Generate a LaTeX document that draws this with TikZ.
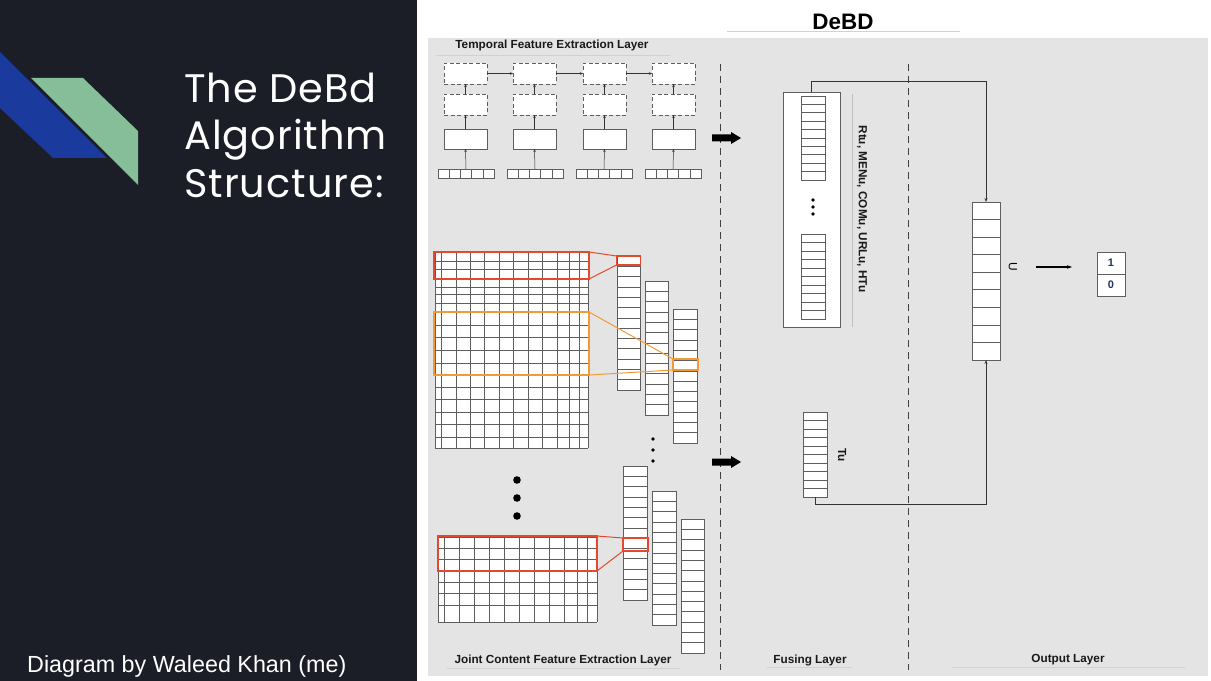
\documentclass[tikz,border=0pt]{standalone}
\usepackage{fontspec}
\setmainfont{Liberation Sans}
\newfontfamily\titlefont{Poppins}[LetterSpace=2.5]
\usetikzlibrary{arrows.meta,calc}
\definecolor{darkbg}{HTML}{1B1E26}
\definecolor{logoblue}{HTML}{1A3A9E}
\definecolor{logogreen}{HTML}{86BE9A}
\definecolor{panelgray}{HTML}{E4E4E4}
\definecolor{hlred}{HTML}{E5492D}
\definecolor{hlorange}{HTML}{F29B35}
\definecolor{navy}{HTML}{1F3461}
\definecolor{edgegray}{HTML}{5E5E5E}
\tikzset{
  vecbox/.style={draw=edgegray, fill=white, line width=0.7bp, inner sep=0pt, outer sep=0pt},
  cellline/.style={draw=edgegray, line width=0.6bp},
  gridline/.style={draw=edgegray, line width=0.6bp},
  dbox/.style={draw=edgegray, fill=white, dash pattern=on 4bp off 2.5bp, line width=0.7bp, minimum width=43bp, minimum height=21bp, inner sep=0pt, outer sep=0pt},
  sbox/.style={draw=edgegray, fill=white, line width=0.7bp, minimum width=43bp, minimum height=20bp, inner sep=0pt, outer sep=0pt},
  tarrow/.style={draw=black!80, line width=0.5bp, -{Stealth[length=3bp,width=2.5bp]}},
  conn/.style={draw=black!80, line width=0.9bp, -{Stealth[length=4bp,width=3bp]}},
  hlbox/.style={draw=#1, line width=1.2bp, inner sep=0pt, outer sep=0pt},
  sepline/.style={draw=black!75, line width=1bp, dash pattern=on 7bp off 5bp},
  lab/.style={font=\bfseries\fontsize{11.8}{14}\selectfont, text=black!90, inner sep=0pt},
  titletext/.style={font=\titlefont\fontsize{40}{48}\selectfont, text=white, inner sep=0pt, anchor=base west},
  uline/.style={draw=black!18, line width=0.6bp},
}
\newcommand{\vvec}[6]{%
  \node[vecbox, anchor=north west, minimum width={(#4-#2)*1bp}, minimum height={(#5-#3)*1bp}] (#1) at (#2,#3) {};
  \pgfmathtruncatemacro{\vvn}{#6-1}
  \foreach \k in {1,...,\vvn}{\draw[cellline] (#2,{#3+\k*(#5-#3)/#6}) -- (#4,{#3+\k*(#5-#3)/#6});}
}
\newcommand{\hvec}[6]{%
  \node[vecbox, anchor=north west, minimum width={(#4-#2)*1bp}, minimum height={(#5-#3)*1bp}] (#1) at (#2,#3) {};
  \pgfmathtruncatemacro{\vvn}{#6-1}
  \foreach \k in {1,...,\vvn}{\draw[cellline] ({#2+\k*(#4-#2)/#6},#3) -- ({#2+\k*(#4-#2)/#6},#5);}
}
\begin{document}
\begin{tikzpicture}[x=1bp, y=-1bp]
\useasboundingbox (0,0) rectangle (1211,681);
% backgrounds
\fill[white] (0,0) rectangle (1211,681);
\fill[darkbg] (0,0) rectangle (417,681);
\fill[panelgray] (428,38) rectangle (1208,676);
% logo
\fill[logoblue] (0,52) -- (107,158) -- (53,158) -- (0,108) -- cycle;
\fill[logogreen] (31,78) -- (83,78) -- (138,131) -- (138,185) -- cycle;
% left titles
\node[titletext] (t1) at (184,103) {The DeBd};
\node[titletext] (t2) at (184,150) {Algorithm};
\node[titletext] (t3) at (184,198) {Structure:};
\node[font=\fontsize{23.4}{28}\selectfont, text=white, inner sep=0pt, anchor=base west] (cap) at (27,672) {Diagram by Waleed Khan (me)};
% heading
\node[font=\bfseries\fontsize{22.5}{26}\selectfont, inner sep=0pt] (head) at (843,22) {DeBD};
\draw[uline] (727,31) -- (960,31);
% separators
\draw[sepline] (720,64) -- (720,670);
\draw[sepline] (908,64) -- (908,670);
% temporal layer
\node[lab] (ttl) at (552,45) {Temporal Feature Extraction Layer};
\draw[uline] (436,55) -- (670,55);
\foreach \i/\x/\v in {1/444/438,2/513/507,3/583/576,4/652/645}{
  \node[dbox, anchor=north west] (da\i) at (\x,63) {};
  \node[dbox, anchor=north west] (db\i) at (\x,94) {};
  \node[sbox, anchor=north west] (sb\i) at (\x,129) {};
  \hvec{in\i}{\v}{169}{\v+56}{178}{5}
  \draw[tarrow] (in\i.north) -- (sb\i.south);
  \draw[tarrow] (sb\i.north) -- (db\i.south);
  \draw[tarrow] (db\i.north) -- (da\i.south);
}
\foreach \i/\j in {1/2,2/3,3/4}{\draw[tarrow] (da\i.east) -- (da\j.west);}
% thick arrows
\fill[black] (712,134.5) -- (731,134.5) -- (731,132) -- (741,138) -- (731,144) -- (731,141.5) -- (712,141.5) -- cycle;
\fill[black] (712,458.5) -- (731,458.5) -- (731,456) -- (741,462) -- (731,468) -- (731,465.5) -- (712,465.5) -- cycle;
% top grid
\fill[white] (435,252) rectangle (588,448);
\foreach \x in {435,441,456,470,484,499,513,528,542,557,569,579,588}{\draw[gridline] (\x,252) -- (\x,448);}
\foreach \y in {252,261,269,278,287,294,303,312,325,337,350,363,375,387,399,412,424,437,448}{\draw[gridline] (435,\y) -- (588,\y);}
% bottom grid
\fill[white] (438,537) rectangle (597,622);
\foreach \x in {438,444,459,474,489,504,519,534,549,564,577,587,597}{\draw[gridline] (\x,537) -- (\x,622);}
\foreach \y in {537,548,559,571,582,593,605,622}{\draw[gridline] (438,\y) -- (597,\y);}
% feature columns
\vvec{ca}{617}{256}{640}{390}{13}
\vvec{cb}{645}{281}{668}{415}{13}
\vvec{cc}{673}{309}{697}{443}{13}
\vvec{cd}{623}{466}{647}{600}{13}
\vvec{ce}{652}{491}{676}{625}{13}
\vvec{cf}{681}{519}{704}{653}{13}
% dots
\foreach \y in {480,498,516}{\fill[black] (517,\y) circle (3.8);}
\foreach \y in {439,450,461}{\fill[black] (653,\y) circle (1.8);}
% highlights
\node[hlbox=hlred, anchor=north west, minimum width=155bp, minimum height=27bp] (r1) at (434,252) {};
\node[hlbox=hlred, anchor=north west, minimum width=24bp, minimum height=9bp] (rs1) at (616.5,256) {};
\draw[hlred, line width=1bp] (r1.north east) -- (rs1.north west);
\draw[hlred, line width=1bp] (r1.south east) -- (rs1.south west);
\node[hlbox=hlorange, anchor=north west, minimum width=155bp, minimum height=63bp] (o1) at (434,312) {};
\node[hlbox=hlorange, anchor=north west, minimum width=25bp, minimum height=11bp] (os1) at (673,359) {};
\draw[hlorange, line width=1bp] (o1.north east) -- (os1.north west);
\draw[hlorange, line width=1bp] (o1.south east) -- (os1.south west);
\node[hlbox=hlred, anchor=north west, minimum width=159bp, minimum height=35bp] (r2) at (438,536) {};
\node[hlbox=hlred, anchor=north west, minimum width=25bp, minimum height=13bp] (rs2) at (623,538) {};
\draw[hlred, line width=1bp] (r2.north east) -- (rs2.north west);
\draw[hlred, line width=1bp] (r2.south east) -- (rs2.south west);
% fusing layer
\node[vecbox, anchor=north west, minimum width=57bp, minimum height=235bp] (fuse) at (783,92) {};
\vvec{fa}{801}{96}{825}{180}{10}
\vvec{fb}{801}{234}{825}{319}{10}
\foreach \y in {200,207,214}{\fill[black] (813,\y) circle (1.8);}
\draw[draw=black!25, line width=0.8bp] (852,94) -- (852,327);
\node[lab, rotate=-90] (flab) at (862,209) {Rtu, MENu, COMu, URLu, HTu};
\vvec{tu}{803}{412}{827}{497}{10}
\node[lab, rotate=-90] (tulab) at (842,455) {Tu};
% output layer
\vvec{U}{972}{202}{1000}{360}{9}
\node[font=\fontsize{12}{14}\selectfont, inner sep=0pt, rotate=-90] (ulab) at (1013,267) {U};
\draw[conn] (fuse.north) -- ++(0,-11) -| (U.north);
\draw[conn] (tu.south) -- ++(0,7) -| (U.south);
\coordinate (ua) at (1036,267);
\coordinate (ub) at (1072,267);
\draw[draw=black, line width=1.1bp, -{Stealth[length=5bp,width=3.5bp]}] (ua) -- (ub);
\node[vecbox, anchor=north west, minimum width=28bp, minimum height=22bp, font=\bfseries\fontsize{11}{13}\selectfont, text=navy] (ob1) at (1097,252) {1};
\node[vecbox, anchor=north west, minimum width=28bp, minimum height=22bp, font=\bfseries\fontsize{11}{13}\selectfont, text=navy] (ob0) at (1097,274) {0};
% bottom labels
\node[lab] (jlab) at (563,660) {Joint Content Feature Extraction Layer};
\draw[uline] (447,668) -- (680,668);
\node[lab] (fulab) at (810,660) {Fusing Layer};
\draw[uline] (767,667) -- (852,667);
\node[lab] (oulab) at (1068,660) {Output Layer};
\draw[uline] (952,667) -- (1185,667);
\end{tikzpicture}
\end{document}
